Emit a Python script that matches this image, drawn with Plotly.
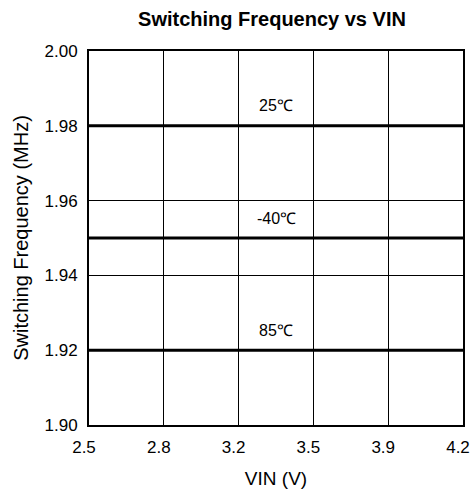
import plotly.graph_objects as go

vin = [2.5, 4.2]
temps = ["25℃", "-40℃", "85℃"]
freq = [1.98, 1.95, 1.92]
x_ticks = [2.5, 2.84, 3.18, 3.52, 3.86, 4.2]
x_labels = ["2.5", "2.8", "3.2", "3.5", "3.9", "4.2"]
y_ticks = [1.90, 1.92, 1.94, 1.96, 1.98, 2.00]

FONT = "Liberation Sans, Arial, sans-serif"
CONFIG = {"displayModeBar": False}

fig = go.Figure()
for t, f in zip(temps, freq):
    fig.add_trace(go.Scatter(x=vin, y=[f, f], mode="lines", name=t,
                             line=dict(color="black", width=3), showlegend=False))
    fig.add_annotation(x=3.35, y=f, text=t, showarrow=False, yshift=20,
                       font=dict(family=FONT, size=16, color="black"))

fig.update_layout(
    width=473, height=489,
    paper_bgcolor="white", plot_bgcolor="white",
    margin=dict(l=89, r=10, t=51, b=64),
    font=dict(family=FONT, size=16, color="black"),
    title=dict(text="<b>Switching Frequency vs VIN</b>", xref="container", x=0.575,
               xanchor="center", yref="container", y=1 - 19 / 489, yanchor="middle",
               font=dict(size=20)),
    xaxis=dict(range=[2.5, 4.2], tickvals=x_ticks, ticktext=x_labels,
               tickfont=dict(size=17), ticklabelstandoff=6, ticklabelshift=-5,
               ticklabeloverflow="allow",
               showgrid=True, gridcolor="black", gridwidth=1,
               showline=True, linecolor="black", linewidth=2, mirror=True,
               zeroline=False, ticks="", automargin=False,
               title=dict(text="VIN (V)", standoff=15, font=dict(size=19))),
    yaxis=dict(range=[1.90, 2.00], tickvals=y_ticks, tickformat=".2f",
               tickfont=dict(size=17), ticklabelstandoff=6,
               showgrid=True, gridcolor="black", gridwidth=1,
               showline=True, linecolor="black", linewidth=2, mirror=True,
               zeroline=False, ticks="", automargin=False,
               title=dict(text="Switching Frequency (MHz)", standoff=11, font=dict(size=20))),
)

# drop the default 8px page margin so the figure fills the window exactly
fig.write_html("out.html", config=CONFIG, post_script="document.body.style.margin='0';")
